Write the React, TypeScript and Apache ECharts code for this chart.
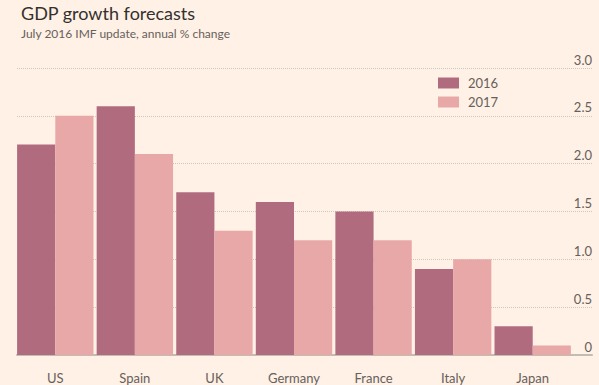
import React, { useEffect, useRef } from "react";
import * as echarts from "echarts";

const categories = ["US", "Spain", "UK", "Germany", "France", "Italy", "Japan"];
const values2016 = [2.2, 2.6, 1.7, 1.6, 1.5, 0.9, 0.3];
const values2017 = [2.5, 2.1, 1.3, 1.2, 1.2, 1.0, 0.1];
const seriesNames = ["2016", "2017"];
const titleText = "GDP growth forecasts";
const subtitleText = "July 2016 IMF update, annual % change";

const FONT = "Lato, sans-serif";

export default function App() {
  const ref = useRef<HTMLDivElement>(null);
  useEffect(() => {
    document.body.style.margin = "0";
    const chart = echarts.init(ref.current!, null, { renderer: "svg" });
    chart.setOption({
      animation: false,
      backgroundColor: "#fff1e5",
      textStyle: { fontFamily: FONT },
      title: [
        {
          text: titleText,
          left: 16,
          top: -1,
          textStyle: { fontSize: 18, fontWeight: "normal", color: "#33302e", fontFamily: FONT },
        },
        {
          text: subtitleText,
          left: 16,
          top: 22,
          textStyle: { fontSize: 12, fontWeight: "normal", color: "#66605c", fontFamily: FONT },
        },
      ],
      legend: {
        orient: "vertical",
        left: 433,
        top: 71,
        itemWidth: 21,
        itemHeight: 11,
        itemGap: 5,
        icon: "rect",
        data: seriesNames,
        textStyle: { fontSize: 13, color: "#66605c", padding: [0, 0, 0, 4], lineHeight: 14, fontFamily: FONT },
      },
      grid: [
        { left: 15.5, right: 26.5, top: 68, bottom: 30 },
        { left: 17, right: 7, top: 68, bottom: 30 },
      ],
      xAxis: [
        {
          type: "category",
          gridIndex: 0,
          data: categories,
          axisLine: { show: false },
          axisTick: { show: false },
          axisLabel: { fontSize: 13, color: "#66605c", margin: 16, fontFamily: FONT },
        },
        {
          type: "category",
          gridIndex: 1,
          data: [""],
          axisLine: { show: true, lineStyle: { color: "#c2bdb3", width: 2 } },
          axisTick: { show: false },
          axisLabel: { show: false },
        },
      ],
      yAxis: [
        {
          type: "value",
          gridIndex: 0,
          min: 0,
          max: 3,
          interval: 0.5,
          show: false,
          splitLine: { show: false },
        },
        {
          type: "value",
          gridIndex: 1,
          position: "right",
          min: 0,
          max: 3,
          interval: 0.5,
          axisLine: { show: false },
          axisTick: { show: false },
          splitLine: { show: true, lineStyle: { type: "dotted", color: "#cfc6bc", width: 1 } },
          axisLabel: {
            fontSize: 13,
            color: "#66605c",
            align: "right",
            verticalAlign: "bottom",
            margin: 0,
            padding: [0, 0, 2, 0],
            fontFamily: FONT,
            formatter: (v: number) => (v === 0 ? "0" : v.toFixed(1)),
          },
        },
      ],
      series: [
        {
          name: seriesNames[0],
          type: "bar",
          xAxisIndex: 0,
          yAxisIndex: 0,
          data: values2016,
          itemStyle: { color: "#b06c7e" },
          barGap: "0%",
          barCategoryGap: "4%",
          z: 3,
        },
        {
          name: seriesNames[1],
          type: "bar",
          xAxisIndex: 0,
          yAxisIndex: 0,
          data: values2017,
          itemStyle: { color: "#e9a8a8" },
          barGap: "0%",
          barCategoryGap: "4%",
          z: 3,
        },
      ],
    });
    return () => chart.dispose();
  }, []);
  return (
    <div
      ref={ref}
      style={{ position: "fixed", left: 0, top: 0, width: 599, height: 385 }}
    />
  );
}
